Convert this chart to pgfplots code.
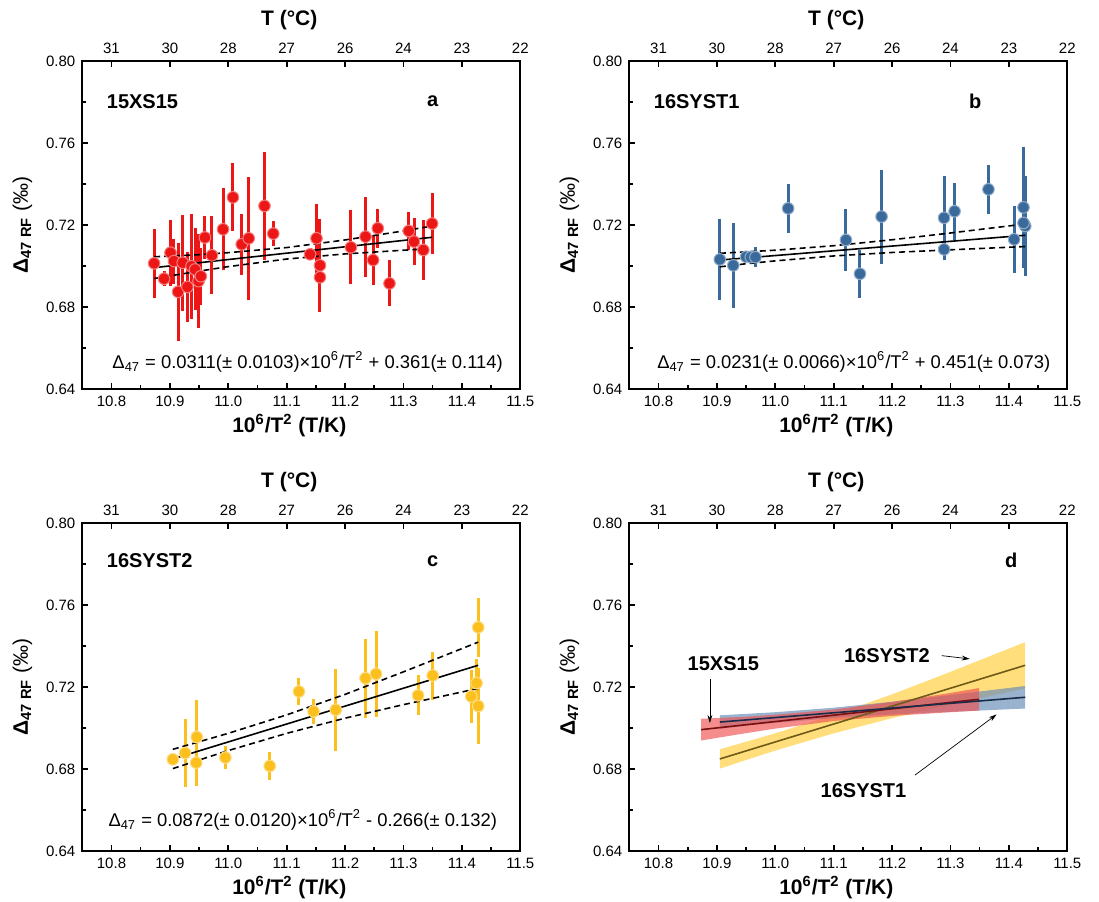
\documentclass[border=0pt]{standalone}
\usepackage{pgfplots}
\pgfplotsset{compat=1.18}
\usepackage{pgfplotstable}
\usepackage{fontspec}
\setmainfont{Liberation Sans}
\usetikzlibrary{arrows.meta}

\definecolor{cred}{RGB}{236,22,22}
\definecolor{cblue}{RGB}{58,106,156}
\definecolor{cyel}{RGB}{252,192,30}
\definecolor{bred}{RGB}{240,80,80}
\definecolor{bblue}{RGB}{110,145,185}
\definecolor{byel}{RGB}{255,214,90}

\pgfplotstableread{
x y e
10.873 0.7013 0.0168
10.890 0.6938 0.0038
10.901 0.7065 0.0161
10.907 0.7024 0.0110
10.914 0.6874 0.0238
10.922 0.7016 0.0234
10.930 0.6898 0.0172
10.937 0.6999 0.0257
10.943 0.6983 0.0200
10.949 0.6926 0.0228
10.953 0.6950 0.0139
10.960 0.7139 0.0106
10.972 0.7052 0.0191
10.991 0.7179 0.0200
11.008 0.7335 0.0166
11.023 0.7106 0.0149
11.035 0.7135 0.0300
11.062 0.7293 0.0265
11.077 0.7158 0.0061
11.140 0.7057 0.0030
11.151 0.7135 0.0169
11.157 0.7003 0.0225
11.157 0.6945 0.0170
11.210 0.7091 0.0180
11.235 0.7143 0.0195
11.248 0.7029 0.0120
11.256 0.7184 0.0094
11.276 0.6915 0.0112
11.309 0.7171 0.0094
11.318 0.7119 0.0116
11.334 0.7078 0.0147
11.349 0.7207 0.0147
}\dataA

\pgfplotstableread{
x y e
10.905 0.7032 0.0196
10.928 0.7003 0.0209
10.950 0.7045 0.0030
10.958 0.7043 0.0030
10.966 0.7043 0.0050
11.022 0.7281 0.0118
11.121 0.7127 0.0150
11.145 0.6962 0.0118
11.182 0.7241 0.0229
11.289 0.7235 0.0206
11.289 0.7081 0.0050
11.307 0.7267 0.0140
11.365 0.7374 0.0118
11.409 0.7130 0.0163
11.425 0.7286 0.0294
11.428 0.7195 0.0243
11.425 0.7210 0.0200
}\dataB

\pgfplotstableread{
x y e
10.905 0.6847 0.0020
10.926 0.6878 0.0166
10.946 0.6956 0.0182
10.945 0.6831 0.0114
10.995 0.6856 0.0055
11.071 0.6815 0.0070
11.121 0.7178 0.0065
11.146 0.7081 0.0060
11.184 0.7089 0.0200
11.235 0.7243 0.0193
11.253 0.7264 0.0210
11.325 0.7159 0.0098
11.350 0.7256 0.0117
11.416 0.7154 0.0130
11.425 0.7219 0.0120
11.428 0.7491 0.0144
11.428 0.7107 0.0186
}\dataC

\tikzset{
 tag/.style={font=\bfseries\fontsize{10}{12}\selectfont},
 eq/.style={font=\fontsize{9.2}{11}\selectfont, anchor=west, inner sep=0pt},
}

\pgfplotsset{
 panel/.style={
  scale only axis, width=219pt, height=164pt,
  xmin=10.75, xmax=11.5, ymin=0.64, ymax=0.80,
  xtick={10.8,10.9,11.0,11.1,11.2,11.3,11.4,11.5},
  ytick={0.64,0.68,0.72,0.76,0.80},
  minor x tick num=1, minor y tick num=1,
  tick align=inside, xtick pos=left, ytick pos=left,
  axis line style={line width=1.1pt},
  major tick length=3pt, minor tick length=1.8pt,
  major tick style={line width=0.9pt, black},
  minor tick style={line width=0.8pt, black},
  tick label style={font=\fontsize{7.5}{9}\selectfont},
  xticklabel style={/pgf/number format/.cd, fixed, fixed zerofill, precision=1, assume math mode=true},
  yticklabel style={/pgf/number format/.cd, fixed, fixed zerofill, precision=2, assume math mode=true},
  label style={font=\bfseries\fontsize{10.5}{12}\selectfont},
  xlabel style={xshift=-6pt, yshift=3pt},
  xlabel={10\textsuperscript{6}/T\textsuperscript{2} (T/K)},
  ylabel={Δ\textsubscript{47 RF} {\mdseries(‰)}},
  clip=false,
 },
 toppanel/.style={
  scale only axis, width=219pt, height=164pt,
  xmin=10.75, xmax=11.5, ymin=0.64, ymax=0.80,
  xtick={10.8,10.9,11.0,11.1,11.2,11.3,11.4,11.5},
  xticklabels={31,30,28,27,26,24,23,22},
  xtick pos=right, xticklabel pos=right, ytick=\empty,
  axis line style={draw=none},
  tick align=inside, major tick length=3pt,
  major tick style={line width=0.9pt, black},
  tick label style={font=\fontsize{7.5}{9}\selectfont},
  label style={font=\bfseries\fontsize{10.5}{12}\selectfont},
  xlabel style={xshift=-6pt},
  xlabel={T (°C)},
 },
 pts/.style={only marks, mark=*, mark size=2.9pt,
  mark options={fill=#1, draw=#1!55!white, line width=0.5pt},
  error bars/.cd, y dir=both, y explicit, error mark=none,
  error bar style={line width=1.5pt, #1}},
 fitline/.style={black, line width=0.8pt},
 band/.style={black, line width=0.8pt, dash pattern=on 3pt off 2pt},
}

\begin{document}
\begin{tikzpicture}
\path[use as bounding box] (-41.15pt,-25pt) rectangle (508.35pt,425.5pt);

% ---------- panel a ----------
\begin{axis}[panel, at={(0pt,231pt)}, anchor=south west]
\addplot[pts=cred] table[x=x, y=y, y error=e] {\dataA};
\addplot[fitline] coordinates {(10.873,0.6992) (11.349,0.7140)};
\addplot[band] coordinates {(10.873,0.7045) (10.95,0.7055) (11.0,0.7065) (11.1,0.7090) (11.2,0.7127) (11.3,0.7171) (11.349,0.7195)};
\addplot[band] coordinates {(10.873,0.6939) (10.95,0.6975) (11.0,0.6997) (11.1,0.7034) (11.2,0.7059) (11.3,0.7077) (11.349,0.7085)};
\node[tag, anchor=west] at (rel axis cs:0.04,0.876) {15XS15};
\node[tag] at (rel axis cs:0.80,0.876) {a};
\node[eq] at (rel axis cs:0.068,0.082) {Δ\textsubscript{47} = 0.0311(± 0.0103)×10\textsuperscript{6}/T\textsuperscript{2} + 0.361(± 0.114)};
\end{axis}
\begin{axis}[toppanel, at={(0pt,231pt)}, anchor=south west]
\end{axis}

% ---------- panel b ----------
\begin{axis}[panel, at={(273.5pt,231pt)}, anchor=south west]
\addplot[pts=cblue] table[x=x, y=y, y error=e] {\dataB};
\addplot[fitline] coordinates {(10.905,0.7029) (11.428,0.7150)};
\addplot[band] coordinates {(10.905,0.7062) (10.95,0.7069) (11.0,0.7077) (11.1,0.7099) (11.2,0.7128) (11.3,0.7161) (11.428,0.7205)};
\addplot[band] coordinates {(10.905,0.6996) (10.95,0.7011) (11.0,0.7025) (11.1,0.7049) (11.2,0.7066) (11.3,0.7079) (11.428,0.7095)};
\node[tag, anchor=west] at (rel axis cs:0.04,0.876) {16SYST1};
\node[tag] at (rel axis cs:0.79,0.876) {b};
\node[eq] at (rel axis cs:0.063,0.082) {Δ\textsubscript{47} = 0.0231(± 0.0066)×10\textsuperscript{6}/T\textsuperscript{2} + 0.451(± 0.073)};
\end{axis}
\begin{axis}[toppanel, at={(273.5pt,231pt)}, anchor=south west]
\end{axis}

% ---------- panel c ----------
\begin{axis}[panel, at={(0pt,0pt)}, anchor=south west]
\addplot[pts=cyel] table[x=x, y=y, y error=e] {\dataC};
\addplot[fitline] coordinates {(10.905,0.6849) (11.428,0.7306)};
\addplot[band] coordinates {(10.905,0.6896) (11.0,0.6974) (11.1,0.7064) (11.2,0.7164) (11.3,0.7274) (11.428,0.7419)};
\addplot[band] coordinates {(10.905,0.6802) (11.0,0.6890) (11.1,0.6974) (11.2,0.7048) (11.3,0.7114) (11.428,0.7193)};
\node[tag, anchor=west] at (rel axis cs:0.04,0.885) {16SYST2};
\node[tag] at (rel axis cs:0.80,0.885) {c};
\node[eq] at (rel axis cs:0.059,0.094) {Δ\textsubscript{47} = 0.0872(± 0.0120)×10\textsuperscript{6}/T\textsuperscript{2} - 0.266(± 0.132)};
\end{axis}
\begin{axis}[toppanel, at={(0pt,0pt)}, anchor=south west]
\end{axis}

% ---------- panel d ----------
\begin{axis}[panel, at={(273.5pt,0pt)}, anchor=south west]
\addplot[fill=byel, draw=none, fill opacity=0.8] coordinates {(10.905,0.6896) (11.0,0.6974) (11.1,0.7064) (11.2,0.7164) (11.3,0.7274) (11.428,0.7419) (11.428,0.7193) (11.3,0.7114) (11.2,0.7048) (11.1,0.6974) (11.0,0.6890) (10.905,0.6802)} -- cycle;
\addplot[fill=bblue, draw=none, fill opacity=0.7] coordinates {(10.905,0.7062) (10.95,0.7069) (11.0,0.7077) (11.1,0.7099) (11.2,0.7128) (11.3,0.7161) (11.428,0.7205) (11.428,0.7095) (11.3,0.7079) (11.2,0.7066) (11.1,0.7049) (11.0,0.7025) (10.95,0.7011) (10.905,0.6996)} -- cycle;
\addplot[fill=bred, draw=none, fill opacity=0.65] coordinates {(10.873,0.7045) (10.95,0.7055) (11.0,0.7065) (11.1,0.7090) (11.2,0.7127) (11.3,0.7171) (11.349,0.7195) (11.349,0.7085) (11.3,0.7077) (11.2,0.7059) (11.1,0.7034) (11.0,0.6997) (10.95,0.6975) (10.873,0.6939)} -- cycle;
\addplot[color={rgb,255:red,110;green,90;blue,25}, line width=0.8pt] coordinates {(10.905,0.6849) (11.428,0.7306)};
\addplot[color={rgb,255:red,120;green,15;blue,15}, line width=0.8pt] coordinates {(10.873,0.6992) (11.349,0.7140)};
\addplot[color={rgb,255:red,25;green,45;blue,75}, line width=0.8pt] coordinates {(10.905,0.7029) (11.428,0.7150)};
\node[tag] at (axis cs:10.911,0.7313) {15XS15};
\node[tag] at (axis cs:11.191,0.7353) {16SYST2};
\node[tag] at (axis cs:11.151,0.6697) {16SYST1};
\draw[-{Stealth[length=4pt,width=2.4pt]}, line width=0.35pt] (axis cs:10.888,0.7241) -- (axis cs:10.888,0.7024);
\draw[-{Stealth[length=4pt,width=2.4pt]}, line width=0.35pt] (axis cs:11.285,0.7353) -- (axis cs:11.333,0.7337);
\draw[-{Stealth[length=4pt,width=2.4pt]}, line width=0.35pt] (axis cs:11.239,0.6770) -- (axis cs:11.379,0.7066);
\node[tag] at (rel axis cs:0.872,0.885) {d};
\end{axis}
\begin{axis}[toppanel, at={(273.5pt,0pt)}, anchor=south west]
\end{axis}
\end{tikzpicture}
\end{document}
